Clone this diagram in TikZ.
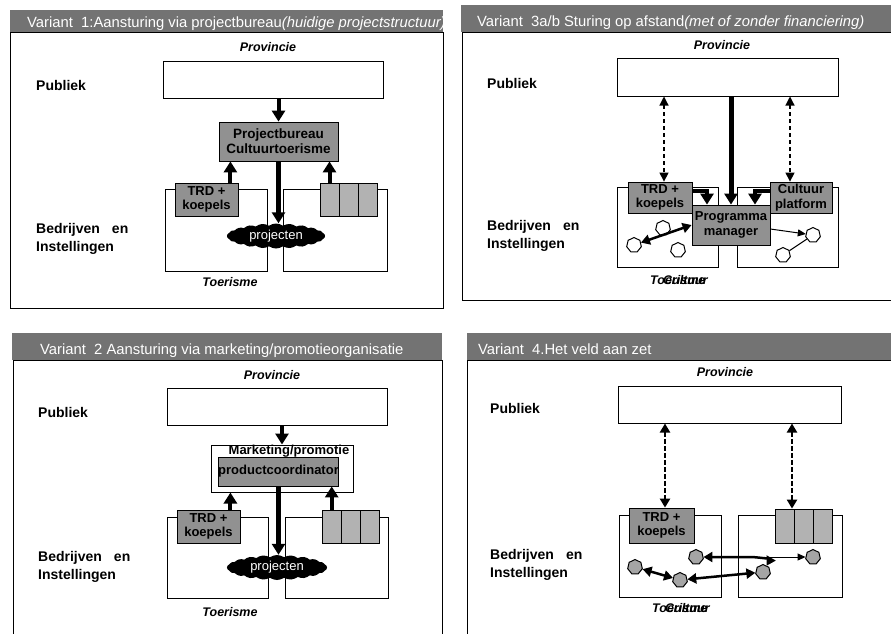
\documentclass[tikz,border=0pt]{standalone}
\usepackage{fontspec}
\setmainfont{Liberation Sans}
\usetikzlibrary{arrows.meta,shapes.geometric,shapes.symbols}
\definecolor{bargray}{RGB}{115,115,115}
\definecolor{boxgray}{RGB}{145,145,145}
\definecolor{cellgray}{RGB}{178,178,178}
\definecolor{dotgray}{RGB}{165,165,165}

\begin{document}
\begin{tikzpicture}[x=1pt,y=-1pt,
    panel/.style={draw,line width=1pt},
    ttl/.style={anchor=base west,inner sep=0,text=white,font=\fontsize{14.8}{16}\selectfont},
    lab/.style={anchor=west,inner sep=0,align=left,font=\bfseries\fontsize{14}{18}\selectfont},
    prov/.style={inner sep=0,font=\bfseries\itshape\fontsize{12.5}{14}\selectfont},
    pubbox/.style={draw,line width=1pt,fill=white,minimum width=220pt,minimum height=37pt},
    sectbox/.style={draw,line width=1pt,minimum width=102pt,minimum height=82pt},
    graybox/.style={draw,line width=0.8pt,fill=boxgray,inner sep=0,align=center,font=\bfseries\fontsize{13}{14.5}\selectfont},
    cellbox/.style={draw,line width=0.8pt,fill=cellgray,minimum width=19pt,minimum height=33pt,inner sep=0},
    proj/.style={cloud,cloud puffs=22,cloud puff arc=70,cloud ignores aspect,fill=black,text=white,inner sep=0,minimum width=98pt,minimum height=25pt,font=\fontsize{13}{14}\selectfont},
    blob/.style={regular polygon,regular polygon sides=7,draw,line width=1pt,fill=white,minimum size=15pt,inner sep=0},
    gblob/.style={blob,fill=dotgray},
    fat/.style={line width=4pt,-{Triangle[width=13pt,length=11pt]}},
    dashdbl/.style={line width=1.2pt,dash pattern=on 4pt off 3pt,{Triangle[width=9pt,length=9pt]}-{Triangle[width=9pt,length=9pt]}},
    boldbl/.style={line width=2.5pt,{Triangle[width=10pt,length=9pt]}-{Triangle[width=10pt,length=9pt]}},
    thinarr/.style={line width=1pt,-{Triangle[width=7pt,length=8pt]}}]

    \clip (0,0) rectangle (891,633);

    \begin{scope}
        \fill[bargray] (10,10) rectangle (443,32);
        \clip (10,10) rectangle (443,32);
        \node[ttl] (P1ttl) at (27,27) {Variant\ \ 1:Aansturing via projectbureau\textit{(huidige projectstructuur)}};
    \end{scope}
    \draw[panel] (10,32) rectangle (443,308);
    \node[prov] (P1prov) at (268,47) {Provincie};
    \node[lab] (P1publ) at (36,85) {Publiek};
    \node[lab] (P1bedr) at (36,239) {Bedrijven\hspace*{12pt}en\\Instellingen};
    \node[pubbox] (P1pub) at (273,80) {};
    \node[sectbox] (P1toer) at (216,230) {};
    \node[sectbox,minimum width=104pt] (P1cult) at (335,230) {};
    \node[prov] (P1toerl) at (230,282) {Toerisme};
    \node[graybox,minimum width=119pt,minimum height=39pt,font=\bfseries\fontsize{13.5}{15}\selectfont] (P1pb) at (278.5,141.5) {Projectbureau\\Cultuurtoerisme};
    \node[graybox,minimum width=63pt,minimum height=33pt] (P1trd) at (206.5,199.5) {TRD +\\koepels};
    \node[cellbox] (P1ca) at (329.5,199.5) {};
    \node[cellbox] (P1cb) at (348.5,199.5) {};
    \node[cellbox] (P1cc) at (367.5,199.5) {};
    \node[proj] (P1proj) at (276,236) {projecten};
    \coordinate (P1t) at ([xshift=-8pt]P1trd.north east);
    \draw[fat] (P1pb.north |- P1pub.south) -- (P1pb.north);
    \draw[fat] (P1t) -- (P1t |- P1pb.south);
    \draw[fat] (P1ca.north) -- (P1ca.north |- P1pb.south);
    \draw[fat,line width=5pt] (P1pb.south) -- (P1pb.south |- P1proj.north);

    \begin{scope}
        \fill[bargray] (461,5) rectangle (891,32);
        \node[ttl] (P2ttl) at (477,26) {Variant\ \ 3a/b Sturing op afstand\textit{(met of zonder financiering)}};
    \end{scope}
    \draw[panel] (462,32) rectangle (900,300);
    \node[prov] (P2prov) at (722,45) {Provincie};
    \node[lab] (P2publ) at (487,83) {Publiek};
    \node[lab] (P2bedr) at (487,236) {Bedrijven\hspace*{12pt}en\\Instellingen};
    \node[pubbox,minimum width=221pt,minimum height=38pt] (P2pub) at (727.5,77) {};
    \node[sectbox,minimum width=101pt,minimum height=80pt] (P2toer) at (667.5,227) {};
    \node[sectbox,minimum width=101pt,minimum height=80pt] (P2cult) at (787.5,227) {};
    \node[prov,anchor=west] (P2toerl) at (650,280) {Toerisme};
    \node[prov,anchor=west] (P2cultl) at (663,280) {Cultuur};
    \node[blob] (P2a) at (663,228) {};
    \node[blob] (P2b) at (634,245) {};
    \node[blob] (P2c) at (678,250) {};
    \node[blob] (P2d) at (813,235) {};
    \node[blob] (P2e) at (783,255) {};
    \node[graybox,minimum width=64pt,minimum height=31pt] (P2trd) at (660,197.5) {TRD +\\koepels};
    \node[graybox,minimum width=62pt,minimum height=31pt] (P2cp) at (801,197.5) {Cultuur\\platform};
    \node[graybox,minimum width=78pt,minimum height=40pt] (P2pm) at (731,225) {Programma\\manager};
    \coordinate (P2l) at ([xshift=4pt]P2trd.north);
    \coordinate (P2r) at ([xshift=-11pt]P2cp.north);
    \draw[dashdbl] (P2l |- P2pub.south) -- (P2l);
    \draw[dashdbl] (P2r |- P2pub.south) -- (P2r);
    \draw[fat,line width=5pt] (P2pm.north |- P2pub.south) -- (P2pm.north);
    \draw[fat] ([yshift=7pt]P2trd.east) -| ([xshift=-24pt]P2pm.north);
    \draw[fat] ([yshift=7pt]P2cp.west) -| ([xshift=24pt]P2pm.north);
    \draw[boldbl] (P2b) -- (P2pm.west);
    \draw[thinarr] ([yshift=-4pt]P2pm.east) -- (P2d);
    \draw[line width=1pt] (P2e) -- (P2d);

    \begin{scope}
        \fill[bargray] (12,333) rectangle (442,360);
        \node[ttl] (P3ttl) at (40,354) {Variant\ \ 2 Aansturing via marketing/promotieorganisatie};
    \end{scope}
    \draw[panel] (13,360) rectangle (442,640);
    \node[prov] (P3prov) at (272,375) {Provincie};
    \node[lab] (P3publ) at (38,412) {Publiek};
    \node[lab] (P3bedr) at (38,567) {Bedrijven\hspace*{12pt}en\\Instellingen};
    \node[pubbox,minimum height=37pt] (P3pub) at (277,406.5) {};
    \node[draw,line width=1pt,fill=white,minimum width=142pt,minimum height=47pt] (P3mk) at (282,468.5) {};
    \node[sectbox,minimum width=101pt,minimum height=81pt] (P3toer) at (217.5,557.5) {};
    \node[sectbox,minimum width=103pt,minimum height=81pt] (P3cult) at (336.5,557.5) {};
    \node[prov] (P3toerl) at (230,612) {Toerisme};
    \node[graybox,minimum width=119pt,minimum height=29pt] (P3pc) at (278.5,471.5) {productcoordinator};
    \node[prov,font=\bfseries\fontsize{13}{14}\selectfont] (P3mkl) at (289,451) {Marketing/promotie};
    \node[graybox,minimum width=63pt,minimum height=33pt] (P3trd) at (208.5,526.5) {TRD +\\koepels};
    \node[cellbox] (P3ca) at (331.7,526.5) {};
    \node[cellbox,minimum width=19.5pt] (P3cb) at (351,526.5) {};
    \node[cellbox] (P3cc) at (370.3,526.5) {};
    \node[proj,minimum width=100pt] (P3proj) at (277,567.5) {projecten};
    \coordinate (P3t) at ([xshift=-10pt]P3trd.north east);
    \draw[fat] (P3mk.north |- P3pub.south) -- (P3mk.north);
    \draw[fat] (P3t) -- (P3t |- P3mk.south);
    \draw[fat] (P3ca.north) -- (P3ca.north |- P3pc.south);
    \draw[fat,line width=5pt] (P3pc.south) -- (P3pc.south |- P3proj.north);

    \begin{scope}
        \fill[bargray] (467,333) rectangle (891,360);
        \node[ttl] (P4ttl) at (478,354) {Variant\ \ 4.Het veld aan zet};
    \end{scope}
    \draw[panel] (467,360) rectangle (900,640);
    \node[prov] (P4prov) at (725,372) {Provincie};
    \node[lab] (P4publ) at (490,408) {Publiek};
    \node[lab] (P4bedr) at (490,565) {Bedrijven\hspace*{12pt}en\\Instellingen};
    \node[pubbox,minimum width=223pt] (P4pub) at (729.5,404.5) {};
    \node[sectbox] (P4toer) at (670,556) {};
    \node[sectbox,minimum width=104pt] (P4cult) at (790,556) {};
    \node[prov,anchor=west] (P4toerl) at (652,608) {Toerisme};
    \node[prov,anchor=west] (P4cultl) at (665,608) {Cultuur};
    \node[graybox,minimum width=65pt,minimum height=35pt] (P4trd) at (661.5,525.5) {TRD +\\koepels};
    \node[cellbox,minimum height=34pt] (P4ca) at (784.5,526) {};
    \node[cellbox,minimum height=34pt] (P4cb) at (803.5,526) {};
    \node[cellbox,minimum height=34pt] (P4cc) at (822.5,526) {};
    \node[gblob] (P4a) at (635,567) {};
    \node[gblob] (P4b) at (680,580) {};
    \node[gblob] (P4c) at (696,557) {};
    \node[gblob] (P4d) at (763,572) {};
    \node[gblob] (P4e) at (813,557) {};
    \coordinate (P4l) at ([xshift=3.5pt]P4trd.north);
    \coordinate (P4r) at ([xshift=7.5pt]P4ca.north);
    \coordinate (P4knee) at (750,557);
    \draw[boldbl,dash pattern=on 5pt off 2pt] (P4l |- P4pub.south) -- (P4l);
    \draw[boldbl,dash pattern=on 5pt off 2pt] (P4r |- P4pub.south) -- (P4r);
    \draw[boldbl] (P4a) -- (P4b);
    \draw[boldbl] (P4b) -- (P4d);
    \draw[boldbl] (P4c) -- (P4knee) to[out=0,in=60] (P4d);
    \draw[thinarr] (P4knee) -- (P4e);
\end{tikzpicture}
\end{document}
